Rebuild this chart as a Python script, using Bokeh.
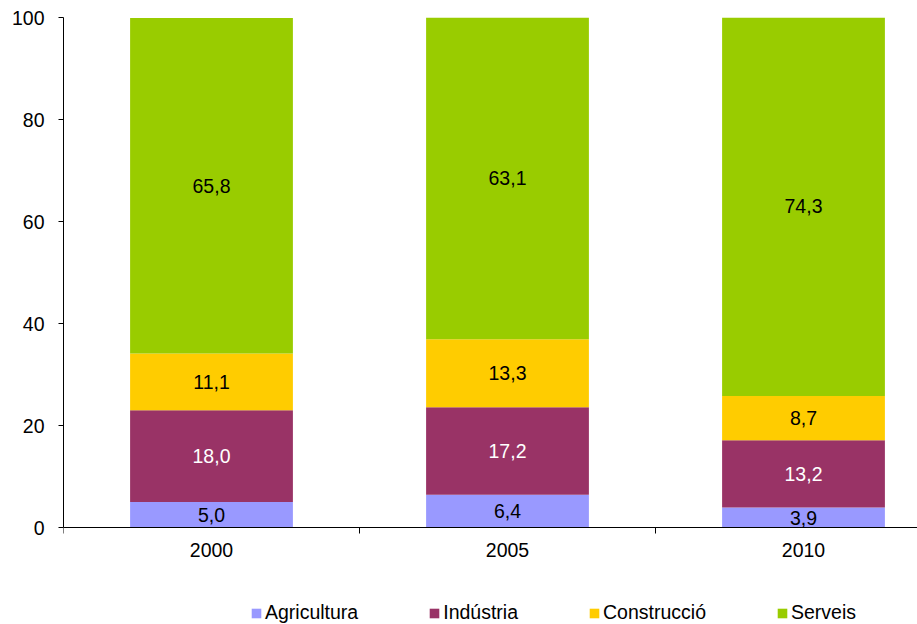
from bokeh.plotting import figure
from bokeh.models import Range1d, FixedTicker, Legend, LegendItem, ColumnDataSource, Span
from bokeh.core.properties import value
from bokeh.embed import file_html
from bokeh.resources import INLINE

years = ["2000", "2005", "2010"]
sectors = ["Agricultura", "Indústria", "Construcció", "Serveis"]
agricultura = [5.0, 6.4, 3.9]
industria = [18.0, 17.2, 13.2]
construccio = [11.1, 13.3, 8.7]
serveis = [65.8, 63.1, 74.3]
colors = ["#9999FF", "#993366", "#FFCC00", "#99CC00"]
label_colors = ["black", "white", "black", "black"]
yticks = [0, 20, 40, 60, 80, 100]

FONT = "Liberation Sans"
FS = "19.5px"

W, H = 917, 624
LEFT, TOP = 63, 17
AXIS_Y = 527                       # pixel row of value 0
px_per_unit = (AXIS_Y - TOP) / 100.0
ymin = -(H - AXIS_Y) / px_per_unit
tick_len = 6 / px_per_unit

xs = [i + 0.5 for i in range(len(years))]
bounds = [float(i) for i in range(len(years) + 1)]
series = [agricultura, industria, construccio, serveis]
data = {"x": xs}
for name, vals in zip(sectors, series):
    data[name] = vals
src = ColumnDataSource(data)

p = figure(width=W, height=H, x_range=Range1d(0, (W - LEFT) / 296.0), y_range=Range1d(ymin, 100),
           output_backend="svg", toolbar_location=None, x_axis_location=None,
           min_border_left=LEFT, min_border_right=0, min_border_top=TOP, min_border_bottom=0)
p.outline_line_color = None
p.xgrid.visible = False
p.ygrid.visible = False
p.background_fill_color = "white"

renderers = p.vbar_stack(sectors, x="x", width=0.55, color=colors, line_alpha=0, source=src)

# data labels
lx, ly, lt, lc = [], [], [], []
for i in range(len(years)):
    base = 0.0
    for k, vals in enumerate(series):
        v = vals[i]
        lx.append(xs[i])
        ly.append(base + v / 2)
        lt.append(f"{v:.1f}".replace(".", ","))
        lc.append(label_colors[k])
        base += v
lsrc = ColumnDataSource(dict(x=lx, y=ly, t=lt, c=lc))
p.text(x="x", y="y", text="t", text_color="c", source=lsrc, text_align="center",
       text_baseline="middle", text_font=value(FONT), text_font_size=FS)

# y axis (line limited to 0..100)
ya = p.yaxis[0]
ya.ticker = FixedTicker(ticks=yticks)
ya.bounds = (0, 100)
ya.major_tick_out = 5
ya.major_tick_in = 0
ya.minor_tick_out = 0
ya.minor_tick_in = 0
ya.major_label_standoff = 14
ya.axis_line_color = "black"
ya.major_tick_line_color = "black"
ya.major_label_text_font = FONT
ya.major_label_text_font_size = FS
ya.major_label_text_color = "black"

# category axis at value 0: line, boundary ticks, centred labels
p.add_layout(Span(location=0, dimension="width", line_color="black", line_width=1))
p.segment(x0=bounds, y0=[0] * len(bounds), x1=bounds, y1=[-tick_len] * len(bounds),
          line_color="black", line_width=1)
p.text(x=xs, y=[0] * len(xs), text=years, text_align="center", text_baseline="top",
       y_offset=15, text_font=value(FONT), text_font_size=FS, text_color="black")

legend = Legend(items=[LegendItem(label=s, renderers=[r]) for s, r in zip(sectors, renderers)],
                orientation="horizontal", location=(187, 0),
                glyph_width=12, glyph_height=12, label_standoff=3, spacing=70,
                padding=0, margin=0, border_line_alpha=0, background_fill_alpha=0,
                label_text_font=FONT, label_text_font_size=FS, label_height=20,
                label_text_color="black")
p.add_layout(legend, "center")

open("out.html", "w").write(file_html(p, INLINE))
